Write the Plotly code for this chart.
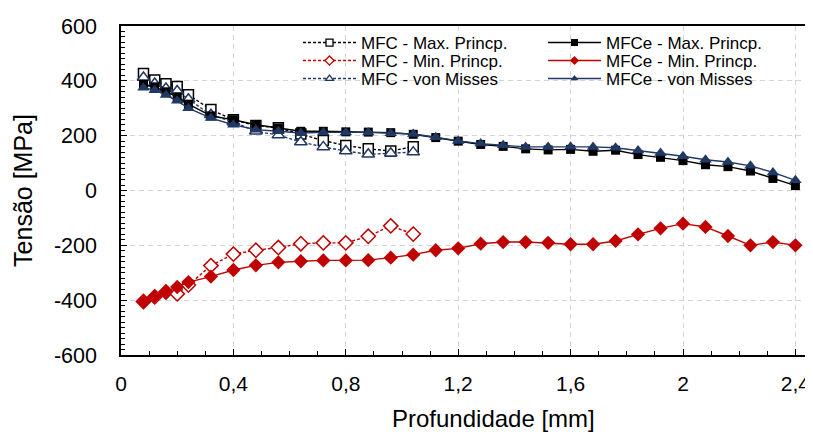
import plotly.graph_objects as go

# ---- data ----
x_mfc = [0.08, 0.12, 0.16, 0.2, 0.24, 0.32, 0.4, 0.48, 0.56, 0.64, 0.72, 0.8, 0.88, 0.96, 1.04]
x_mfce = [0.08, 0.12, 0.16, 0.2, 0.24, 0.32, 0.4, 0.48, 0.56, 0.64, 0.72, 0.8, 0.88, 0.96, 1.04,
          1.12, 1.2, 1.28, 1.36, 1.44, 1.52, 1.6, 1.68, 1.76, 1.84, 1.92, 2.0, 2.08, 2.16, 2.24, 2.32, 2.4]

mfc_max = [427, 403, 389, 379, 349, 295, 258, 237, 229, 206, 182, 164, 152, 144, 160]
mfc_min = [-405, -388, -370, -377, -345, -274, -232, -218, -208, -194, -191, -191, -167, -129, -159]
mfc_vm = [412, 390, 372, 363, 333, 276, 250, 216, 202, 177, 159, 144, 132, 136, 140]

mfce_max = [388, 378, 360, 342, 315, 272, 258, 240, 228, 216, 216, 214, 213, 211, 205,
            193, 180, 168, 161, 152, 148, 150, 143, 147, 131, 121, 109, 94, 87, 71, 44, 18]
mfce_min = [-407, -385, -369, -352, -334, -314, -290, -273, -262, -258, -255, -255, -254, -245, -234,
            -218, -211, -194, -188, -188, -191, -196, -196, -184, -160, -138, -121, -133, -166, -200, -188, -200]
mfce_vm = [375, 366, 348, 327, 300, 264, 240, 222, 216, 210, 212, 212, 212, 209, 206,
           194, 181, 171, 165, 159, 159, 160, 159, 156, 146, 137, 125, 112, 104, 90, 66, 37]

names = ["MFC - Max. Princp.", "MFC - Min. Princp.", "MFC - von Misses",
         "MFCe - Max. Princp.", "MFCe - Min. Princp.", "MFCe - von Misses"]

x_tickvals = [0, 0.4, 0.8, 1.2, 1.6, 2.0, 2.4]
x_ticktext = ["0", "0,4", "0,8", "1,2", "1,6", "2", "2,4"]
y_tickvals = [-600, -400, -200, 0, 200, 400, 600]
y_ticktext = ["-600", "-400", "-200", "0", "200", "400", "600"]
x_title = "Profundidade [mm]"
y_title = "Tensão [MPa]"

BLACK = "#000000"
RED = "#C00000"
NAVY = "#203864"
OFF = 8  # page body margin
W, H = 813 - OFF, 432 - OFF
L, R, T, B = 121 - OFF, 0, 26 - OFF, 432 - 355
PW, PH = W - L - R, H - T - B
FONT = "Liberation Sans, Arial, sans-serif"


def px2paper(px, py):
    # px, py given in window pixels
    return (px - OFF - L) / PW, 1 - (py - OFF - T) / PH


fig = go.Figure()

series = [
    (x_mfc, mfc_max, names[0], BLACK, "square", 10, True),
    (x_mfc, mfc_min, names[1], RED, "diamond", 11, True),
    (x_mfc, mfc_vm, names[2], NAVY, "triangle-up", 11, True),
    (x_mfce, mfce_max, names[3], BLACK, "square", 9, False),
    (x_mfce, mfce_min, names[4], RED, "diamond", 11, False),
    (x_mfce, mfce_vm, names[5], NAVY, "triangle-up", 11, False),
]

for xs, ys, nm, col, sym, sz, is_open in series:
    fig.add_trace(go.Scatter(
        x=xs, y=ys, name=nm, mode="lines+markers", showlegend=False,
        line=dict(color=col, width=1.4, dash="3px,2px" if is_open else "solid"),
        marker=dict(symbol=sym, size=sz,
                    color="white" if is_open else col,
                    line=dict(color=col, width=1.5 if is_open else 0)),
    ))

# legend entries (one legend per entry for exact placement)
leg_pos = [(298, 43), (298, 61), (298, 79), (543, 43), (543, 61), (543, 79)]
for i, ((xs, ys, nm, col, sym, sz, is_open), (px, py)) in enumerate(zip(series, leg_pos)):
    key = "legend" if i == 0 else f"legend{i+1}"
    fig.add_trace(go.Scatter(
        x=[None], y=[None], name=nm, mode="lines+markers", legend=key,
        line=dict(color=col, width=1.4, dash="3px,2px" if is_open else "solid"),
        marker=dict(symbol=sym, size=7,
                    color="white" if is_open else col,
                    line=dict(color=col, width=1.3 if is_open else 0)),
    ))
    lx, ly = px2paper(px, py)
    fig.layout[key] = dict(
        x=lx, y=ly, xref="paper", yref="paper",
        xanchor="left", yanchor="middle", bgcolor="rgba(0,0,0,0)",
        borderwidth=0, itemwidth=53, font=dict(family=FONT, size=17, color="#000"),
        itemclick=False, itemdoubleclick=False,
    )

# white background behind legend (covers gridlines)
x0, y1 = px2paper(295, 31)
x1, y0 = px2paper(786, 88)
fig.add_shape(type="rect", xref="paper", yref="paper", layer="between",
              x0=x0, x1=x1, y0=y0, y1=y1,
              fillcolor="white", line=dict(width=0))

# x-axis title (centred as in the reference)
tx, ty = px2paper(493, 418)
fig.add_annotation(text=x_title, xref="paper", yref="paper", x=tx, y=ty,
                   xanchor="center", yanchor="middle", showarrow=False,
                   font=dict(size=24, family=FONT, color="#000"))

fig.update_layout(
    width=W, height=H,
    margin=dict(l=L, r=R, t=T, b=B, pad=0, autoexpand=False),
    paper_bgcolor="white", plot_bgcolor="white",
    font=dict(family=FONT, color="#000"),
)

fig.update_xaxes(
    range=[0, PW / 281.0],
    tickvals=x_tickvals, ticktext=x_ticktext,
    tickfont=dict(size=21, family=FONT),
    ticks="inside", ticklen=6, tickcolor="black", tickwidth=1.3,
    ticklabelstandoff=9, ticklabeloverflow="allow",
    minor=dict(dtick=0.1, ticks="inside", ticklen=4, tickcolor="black", showgrid=False),
    showline=True, linecolor="black", linewidth=1.5, mirror=True,
    showgrid=True, gridcolor="#D4D4D4", gridwidth=1.2, griddash="5px,4px",
    zeroline=False, automargin=False,
)
fig.update_yaxes(
    range=[-600, 600],
    tickvals=y_tickvals, ticktext=y_ticktext,
    tickfont=dict(size=21.5, family=FONT),
    ticks="inside", ticklen=6, tickcolor="black", tickwidth=1.3,
    ticklabelstandoff=18,
    minor=dict(dtick=20, ticks="inside", ticklen=4, tickcolor="black", showgrid=False),
    showline=True, linecolor="black", linewidth=1.5, mirror=False,
    showgrid=True, gridcolor="#D4D4D4", gridwidth=1.2, griddash="5px,4px",
    zeroline=False, automargin=False,
    title=dict(text=y_title, font=dict(size=25, family=FONT), standoff=14),
)

fig.write_html("out.html")
